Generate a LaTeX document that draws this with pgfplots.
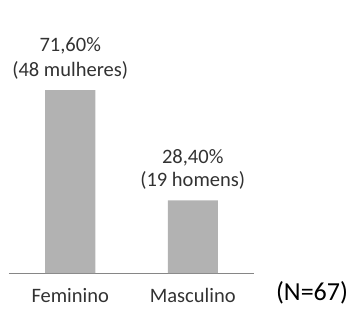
\documentclass[border=0pt]{standalone}
\usepackage{pgfplots}
\pgfplotsset{compat=1.18}
\usepackage{fontspec}
\setmainfont{Carlito}
\definecolor{barc}{RGB}{178,178,178}
\definecolor{axc}{RGB}{134,134,134}
\definecolor{txt}{RGB}{50,50,50}
\begin{document}
\begin{tikzpicture}[x=1pt,y=1pt]
\path[use as bounding box] (0,0) rectangle (350,308);
\begin{axis}[
  at={(9pt,35pt)}, anchor=south west,
  scale only axis, width=245pt, height=200pt,
  xmin=-0.5, xmax=1.5, ymin=0, ymax=78.25,
  axis y line=none, axis x line*=bottom,
  x axis line style={draw=axc, line width=0.8pt, -},
  xtick=data, xticklabels={Feminino,Masculino},
  major tick length=0pt,
  xticklabel style={font=\fontsize{20.5}{24}\selectfont, text=txt, yshift=-12pt},
  ytick=\empty,
  clip=false,
]
\addplot[ybar, bar width=50pt, fill=barc, draw=none] coordinates {(0,71.6) (1,28.4)};
\node[text=txt, font=\fontsize{20.5}{24}\selectfont] at (axis cs:0,71.6) [yshift=44pt] {71,60\%};
\node[text=txt, font=\fontsize{20.5}{24}\selectfont] at (axis cs:0,71.6) [yshift=20pt] {(48 mulheres)};
\node[text=txt, font=\fontsize{20.5}{24}\selectfont] at (axis cs:1,28.4) [yshift=43pt] {28,40\%};
\node[text=txt, font=\fontsize{20.5}{24}\selectfont] at (axis cs:1,28.4) [yshift=20pt] {(19 homens)};
\end{axis}
\node[text=black, font=\fontsize{26}{30}\selectfont] at (312,15) {(N=67)};
\end{tikzpicture}
\end{document}
